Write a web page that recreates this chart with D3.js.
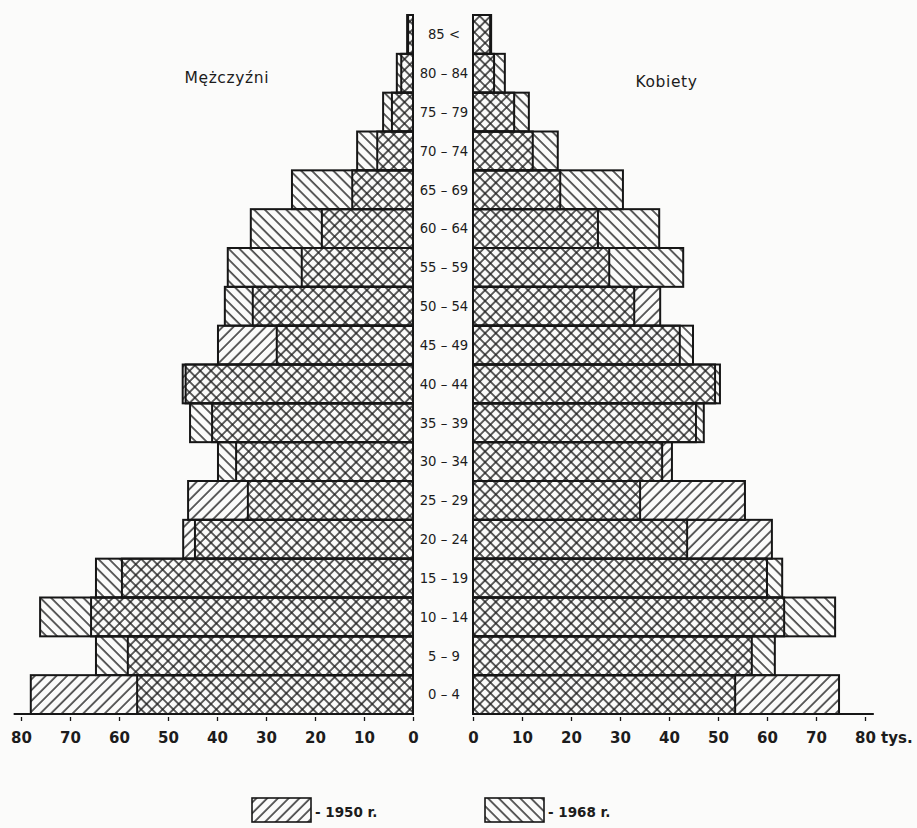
<!DOCTYPE html>
<html>
<head>
<meta charset="utf-8">
<script src="https://cdn.jsdelivr.net/npm/d3@7/dist/d3.min.js"></script>
<style>
  html, body { margin: 0; padding: 0; background: #fbfbfa; }
  svg { display: block; }
  text { font-family: "DejaVu Sans", "Liberation Sans", sans-serif; fill: #1c1c1c; }
</style>
</head>
<body>
<svg id="chart" width="917" height="828"></svg>
<script>
// Age groups, bottom to top
const ageGroups = ["0 – 4", "5 – 9", "10 – 14", "15 – 19", "20 – 24", "25 – 29", "30 – 34",
  "35 – 39", "40 – 44", "45 – 49", "50 – 54", "55 – 59", "60 – 64", "65 – 69",
  "70 – 74", "75 – 79", "80 – 84", "85 <"];

// thousands of persons
const men1950   = [78.0, 58.2, 65.7, 59.4, 46.9, 45.9, 36.1, 41.0, 47.0, 39.8, 32.7, 22.7, 18.6, 12.4, 7.3, 4.3, 2.4, 1.0];
const men1968   = [56.3, 64.7, 76.1, 64.7, 44.5, 33.7, 39.8, 45.5, 46.4, 27.8, 38.4, 37.8, 33.1, 24.7, 11.4, 6.1, 3.3, 1.2];
const women1950 = [74.7, 56.9, 63.5, 60.0, 61.0, 55.5, 40.6, 45.5, 49.4, 42.2, 38.2, 27.8, 25.5, 17.8, 12.2, 8.4, 4.3, 3.5];
const women1968 = [53.5, 61.6, 73.9, 63.1, 43.7, 34.1, 38.6, 47.1, 50.4, 44.9, 32.9, 42.9, 38.0, 30.6, 17.3, 11.4, 6.5, 3.7];

const tickValues = [0, 10, 20, 30, 40, 50, 60, 70, 80];
const sideLabels = ["Mężczyźni", "Kobiety"];
const legendLabels = ["- 1950 r.", "- 1968 r."];
const unitLabel = "tys.";

const svg = d3.select("#chart");
const ink = "#161616";

// patterns
const defs = svg.append("defs");
function hatch(id, angle) {
  const p = defs.append("pattern")
    .attr("id", id).attr("patternUnits", "userSpaceOnUse")
    .attr("width", 7.6).attr("height", 7.6)
    .attr("patternTransform", `rotate(${angle})`);
  p.append("line").attr("x1", 1).attr("y1", 0).attr("x2", 1).attr("y2", 7.6)
    .attr("stroke", "#1e1e1e").attr("stroke-width", 1.4);
}
hatch("h1950", 45);   // "/"
hatch("h1968", -45);  // "\"

// scales
const yTop = 15, yBottom = 714;
const y = d3.scaleBand().domain(ageGroups).range([yBottom, yTop]).padding(0);
const xL = d3.scaleLinear().domain([0, 80]).range([413, 21]);
const xR = d3.scaleLinear().domain([0, 80]).range([473, 865]);

function drawSide(x, v1950, v1968, left) {
  const g = svg.append("g");
  const rectAttrs = (sel, vals, fill) => sel
    .attr("x", (d, i) => left ? x(vals[i]) : x(0))
    .attr("width", (d, i) => Math.abs(x(vals[i]) - x(0)))
    .attr("y", d => y(d))
    .attr("height", y.bandwidth())
    .attr("fill", fill);
  rectAttrs(g.append("g").selectAll("rect").data(ageGroups).join("rect"), v1950, "url(#h1950)");
  rectAttrs(g.append("g").selectAll("rect").data(ageGroups).join("rect"), v1968, "url(#h1968)");
  rectAttrs(g.append("g").selectAll("rect").data(ageGroups).join("rect"), v1950, "none")
    .attr("stroke", ink).attr("stroke-width", 2);
  rectAttrs(g.append("g").selectAll("rect").data(ageGroups).join("rect"), v1968, "none")
    .attr("stroke", ink).attr("stroke-width", 2);
}
drawSide(xL, men1950, men1968, true);
drawSide(xR, women1950, women1968, false);

// age labels in the middle
const midX = (xL(0) + xR(0)) / 2;
svg.append("g").selectAll("text").data(ageGroups).join("text")
  .attr("x", midX + 1)
  .attr("y", d => y(d) + y.bandwidth() / 2)
  .attr("dy", "0.36em")
  .attr("text-anchor", "middle")
  .attr("font-size", 13.2)
  .attr("fill", "#111")
  .text(d => d);

// axes
function drawAxis(x, extra) {
  const g = svg.append("g").attr("transform", `translate(0,${yBottom})`);
  g.call(d3.axisBottom(x).tickValues(tickValues).tickSize(5).tickPadding(13).tickFormat(d3.format("d")));
  g.select(".domain").remove();
  g.append("line").attr("x1", x(0)).attr("x2", x(extra)).attr("y1", 0).attr("y2", 0)
    .attr("stroke", ink).attr("stroke-width", 1.8);
  g.selectAll(".tick line").attr("stroke", ink).attr("stroke-width", 1.3).attr("y1", 3).attr("y2", 7);
  g.selectAll(".tick text").attr("font-size", 15).attr("font-weight", "bold")
    .style("font-family", "'DejaVu Sans', sans-serif").attr("fill", "#1c1c1c");
  return g;
}
drawAxis(xL, 81.5);
const gr = drawAxis(xR, 81.8);
gr.append("text").attr("x", xR(80) + 16).attr("y", 18).attr("dy", "0.71em")
  .attr("font-size", 15).attr("font-weight", "bold").attr("text-anchor", "start")
  .attr("fill", "#1c1c1c").style("font-family", "'DejaVu Sans', sans-serif")
  .text(unitLabel);

// side labels
svg.append("text").attr("x", xL(38)).attr("y", 77).attr("dy", "0.36em")
  .attr("text-anchor", "middle").attr("font-size", 15.5).attr("letter-spacing", 0.6).text(sideLabels[0]);
svg.append("text").attr("x", xR(39.5)).attr("y", 81).attr("dy", "0.36em")
  .attr("text-anchor", "middle").attr("font-size", 15.5).attr("letter-spacing", 0.6).text(sideLabels[1]);

// legend
const legendItems = [{label: legendLabels[0], fill: "url(#h1950)", x: 252},
                     {label: legendLabels[1], fill: "url(#h1968)", x: 485}];
const lg = svg.append("g");
legendItems.forEach(it => {
  lg.append("rect").attr("x", it.x).attr("y", 798).attr("width", 59).attr("height", 24)
    .attr("fill", it.fill).attr("stroke", ink).attr("stroke-width", 1.6);
  lg.append("text").attr("x", it.x + 63).attr("y", 812).attr("dy", "0.36em")
    .attr("font-size", 13.5).attr("font-weight", "bold").text(it.label);
});
</script>
</body>
</html>
